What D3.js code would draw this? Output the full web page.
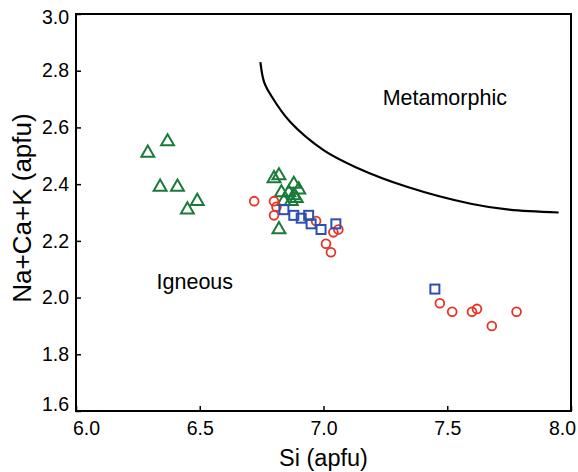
<!DOCTYPE html>
<html>
<head>
<meta charset="utf-8">
<script src="https://cdn.jsdelivr.net/npm/d3@7"></script>
<style>
  html, body { margin: 0; padding: 0; background: #fff; }
  svg { display: block; font-family: "Liberation Sans", Arial, sans-serif; }
</style>
</head>
<body>
<svg id="chart" width="578" height="472"></svg>
<script>
// Data
const triangleSi  = [6.29, 6.37, 6.34, 6.41, 6.45, 6.49, 6.80, 6.82, 6.88, 6.90, 6.83, 6.86, 6.88, 6.84, 6.87, 6.89, 6.82];
const triangleNCK = [2.51, 2.55, 2.39, 2.39, 2.31, 2.34, 2.42, 2.43, 2.40, 2.38, 2.37, 2.37, 2.36, 2.34, 2.34, 2.35, 2.24];

const circleSi  = [6.72, 6.80, 6.81, 6.80, 6.97, 7.04, 7.06, 7.01, 7.03, 7.47, 7.52, 7.60, 7.62, 7.68, 7.78];
const circleNCK = [2.34, 2.34, 2.32, 2.29, 2.27, 2.23, 2.24, 2.19, 2.16, 1.98, 1.95, 1.95, 1.96, 1.90, 1.95];

const squareSi  = [6.84, 6.88, 6.91, 6.94, 6.95, 6.99, 7.05, 7.45];
const squareNCK = [2.31, 2.29, 2.28, 2.29, 2.26, 2.24, 2.26, 2.03];

const boundarySi  = [6.745, 6.76, 6.79, 6.865, 7.00, 7.13, 7.34, 7.60, 7.75, 7.95];
const boundaryNCK = [2.83, 2.76, 2.71, 2.62, 2.52, 2.46, 2.39, 2.33, 2.31, 2.30];

const xTicks = [6.0, 6.5, 7.0, 7.5, 8.0];
const yTicks = [1.6, 1.8, 2.0, 2.2, 2.4, 2.6, 2.8, 3.0];

const svg = d3.select("#chart");
const mLeft = 76, mRight = 571, mTop = 14, mBottom = 411;

const x = d3.scaleLinear().domain([6, 8]).range([mLeft, mRight]);
const y = d3.scaleLinear().domain([1.6, 3.0]).range([mBottom, mTop]);

// frame
svg.append("rect")
  .attr("x", mLeft).attr("y", mTop)
  .attr("width", mRight - mLeft).attr("height", mBottom - mTop)
  .attr("fill", "none").attr("stroke", "#000").attr("stroke-width", 2);

// axes (inward ticks)
const xAxis = d3.axisBottom(x).tickValues(xTicks).tickFormat(d3.format(".1f")).tickSizeInner(-5).tickSizeOuter(0).tickPadding(10);
const yAxis = d3.axisLeft(y).tickValues(yTicks).tickFormat(d3.format(".1f")).tickSizeInner(-5).tickSizeOuter(0).tickPadding(7);

const gx = svg.append("g").attr("transform", `translate(0,${mBottom})`).call(xAxis);
const gy = svg.append("g").attr("transform", `translate(${mLeft},0)`).call(yAxis);
[gx, gy].forEach(g => {
  g.select(".domain").remove();
  g.selectAll("line").attr("stroke", "#000").attr("stroke-width", 1.5);
  g.selectAll("text").attr("fill", "#000").style("font-size", "19.5px").style("font-family", "Liberation Sans, Arial, sans-serif");
});
// end labels are nudged inward, as in the reference
gx.selectAll(".tick text").attr("dx", d => d === 6.0 ? 10 : d === 8.0 ? -9 : 0);
gy.selectAll(".tick text").attr("dy", d => d === 1.6 ? "-0.05em" : d === 3.0 ? "0.5em" : "0.32em");

// axis titles
svg.append("text").attr("x", (mLeft + mRight) / 2).attr("y", 466)
  .attr("text-anchor", "middle").style("font-size", "23.5px").text("Si (apfu)");
svg.append("text")
  .attr("transform", `translate(31,208) rotate(-90)`)
  .attr("text-anchor", "middle").style("font-size", "26px").text("Na+Ca+K (apfu)");

// region labels
svg.append("text").attr("x", x(7.49)).attr("y", y(2.68))
  .attr("text-anchor", "middle").style("font-size", "21.5px").text("Metamorphic");
svg.append("text").attr("x", x(6.48)).attr("y", y(2.03))
  .attr("text-anchor", "middle").style("font-size", "21.5px").text("Igneous");

// boundary curve
const line = d3.line().x(d => x(d[0])).y(d => y(d[1])).curve(d3.curveCatmullRom.alpha(0.5));
svg.append("path")
  .datum(d3.zip(boundarySi, boundaryNCK))
  .attr("d", line)
  .attr("fill", "none").attr("stroke", "#000").attr("stroke-width", 2.2);

// triangles
const triSym = d3.symbol().type(d3.symbolTriangle).size(72);
svg.append("g").selectAll("path")
  .data(d3.zip(triangleSi, triangleNCK))
  .join("path")
  .attr("d", triSym)
  .attr("transform", d => `translate(${x(d[0])},${y(d[1])})`)
  .attr("fill", "none").attr("stroke", "#1a7a3a").attr("stroke-width", 2);

// circles
svg.append("g").selectAll("circle")
  .data(d3.zip(circleSi, circleNCK))
  .join("circle")
  .attr("cx", d => x(d[0])).attr("cy", d => y(d[1])).attr("r", 4.4)
  .attr("fill", "none").attr("stroke", "#e63325").attr("stroke-width", 1.8);

// squares
svg.append("g").selectAll("rect")
  .data(d3.zip(squareSi, squareNCK))
  .join("rect")
  .attr("x", d => x(d[0]) - 4.5).attr("y", d => y(d[1]) - 4.5)
  .attr("width", 9).attr("height", 9)
  .attr("fill", "none").attr("stroke", "#2f4fb0").attr("stroke-width", 2);
</script>
</body>
</html>
